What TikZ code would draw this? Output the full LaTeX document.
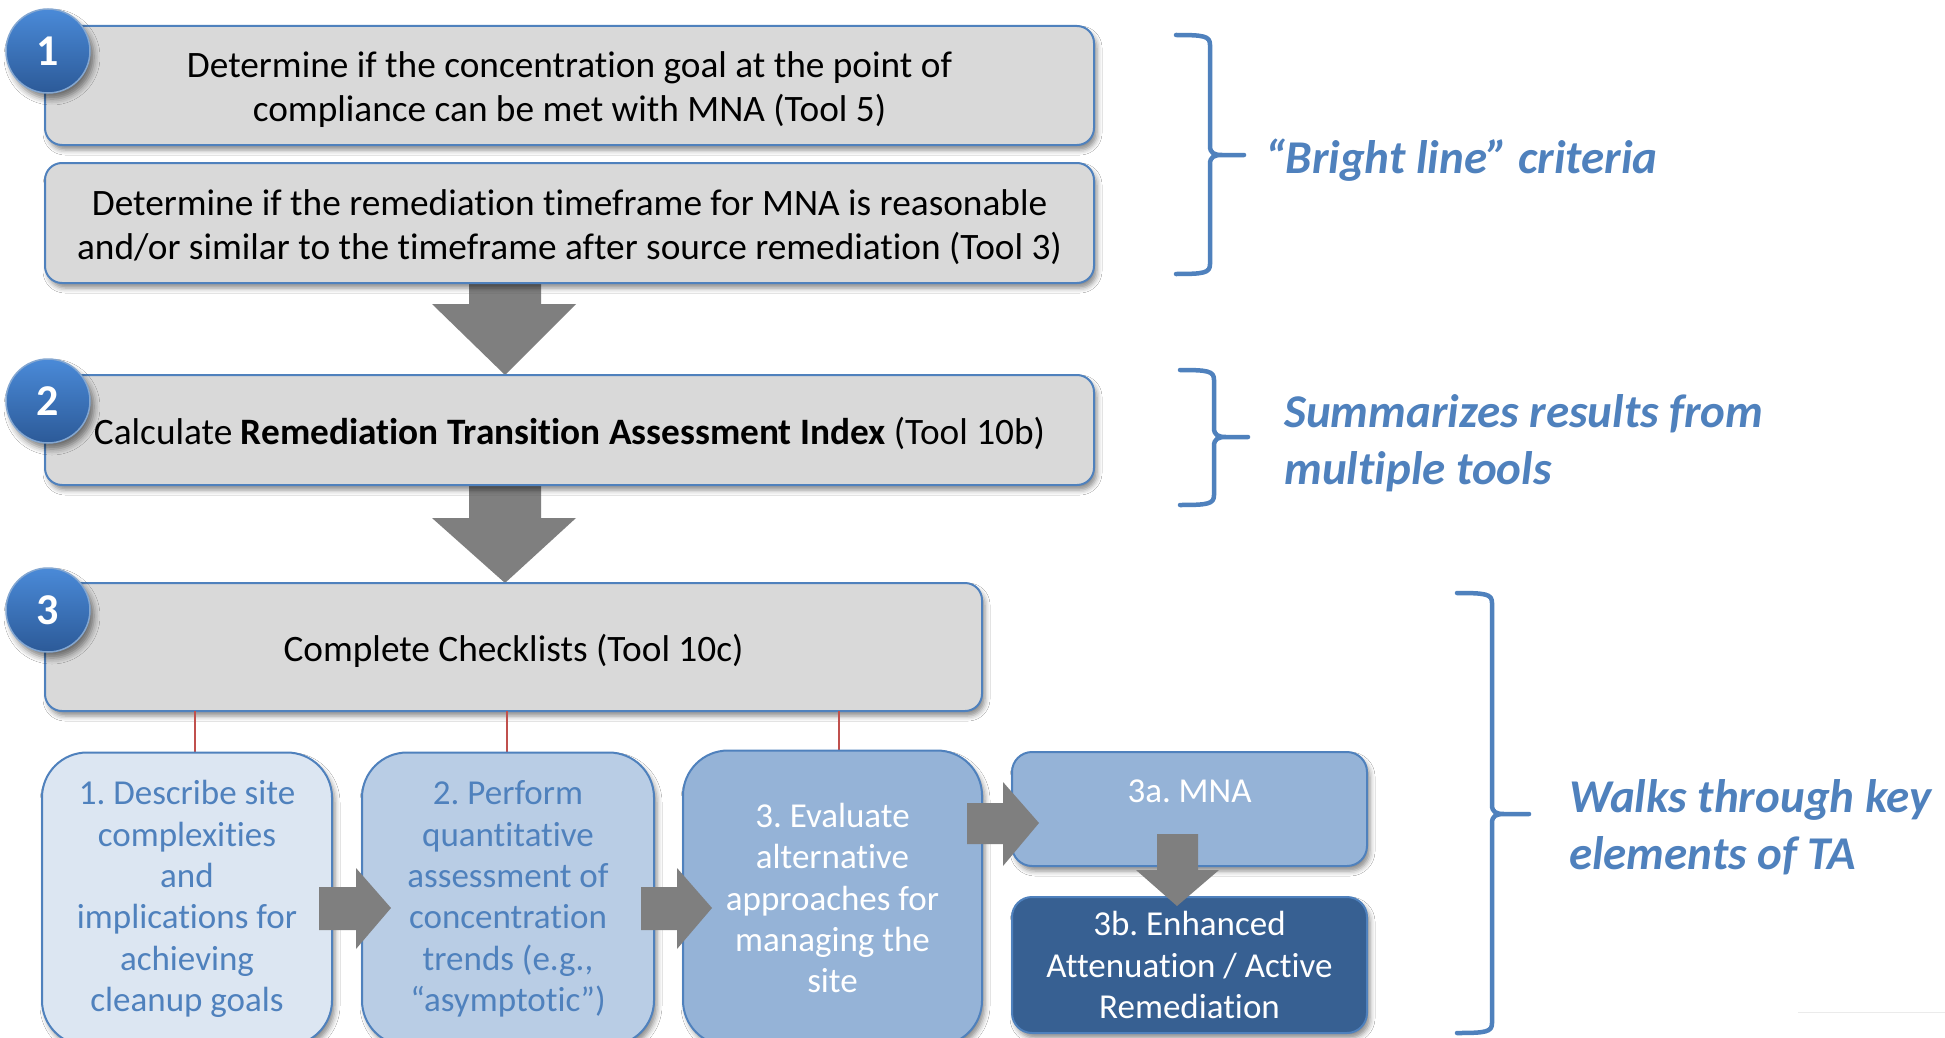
\documentclass[tikz,border=0pt]{standalone}
\usepackage{fontspec}
\setmainfont{Carlito}[Ligatures={TeX,NoCommon}]
\usetikzlibrary{shadows.blur}
\frenchspacing

\definecolor{accentblue}{HTML}{4F81BD}
\definecolor{panelgray}{HTML}{D9D9D9}
\definecolor{arrowgray}{HTML}{7F7F7F}
\definecolor{stepA}{HTML}{DCE6F2}
\definecolor{stepB}{HTML}{B9CDE5}
\definecolor{stepC}{HTML}{95B3D7}
\definecolor{stepD}{HTML}{376092}
\definecolor{tieRed}{HTML}{C0504D}
\definecolor{ballTop}{HTML}{4A8AD8}
\definecolor{ballBot}{HTML}{2C5A98}

\newcommand{\bodysize}{\fontsize{37.3}{43.5}\selectfont}
\newcommand{\substepsize}{\fontsize{35}{41.3}\selectfont}
\newcommand{\notesize}{\fontsize{47}{57}\selectfont\bfseries\itshape}
% tall strut on a first line, to set the text a little lower in its box
\newcommand{\toppad}{\rule{0pt}{34pt}}

% curly bracket: arm x, spine x, tip x, top y, tip y, bottom y
\newcommand{\sidebrace}[6]{%
  \draw[bracepen] (#1,#4) .. controls (#2-6,#4) and (#2,#4+1) .. (#2,#4+10)
    -- (#2,#5-9) .. controls (#2,#5-2) and (#2+4,#5) .. (#2+12,#5) -- (#3,#5)
    -- (#2+12,#5) .. controls (#2+4,#5) and (#2,#5+2) .. (#2,#5+9)
    -- (#2,#6-10) .. controls (#2,#6-1) and (#2-6,#6) .. (#1,#6);}

\tikzset{
  softshadow/.style={blur shadow={shadow xshift=3pt, shadow yshift=-5pt,
      shadow blur radius=5pt, shadow opacity=45}},
  graybox/.style={draw=accentblue, line width=2pt, fill=panelgray,
      rounded corners=17pt, softshadow, align=center, inner sep=0pt,
      font=\bodysize, text=black},
  substep/.style={draw=accentblue, line width=2pt, rounded corners=45pt,
      softshadow, align=center, inner sep=0pt, font=\substepsize},
  optionbox/.style={draw=accentblue, line width=2pt, rounded corners=20pt,
      softshadow, align=center, inner sep=0pt, font=\substepsize, text=white,
      minimum width=355pt},
  stepball/.style={circle, minimum size=84pt, inner sep=0pt,
      top color=ballTop, bottom color=ballBot,
      draw=accentblue!70!white, line width=1.5pt,
      blur shadow={shadow xshift=4pt, shadow yshift=-6pt,
        shadow blur radius=6pt, shadow opacity=50},
      text=white, font=\fontsize{44}{44}\selectfont\bfseries},
  blockarrow/.style={fill=arrowgray, draw=none},
  tieline/.style={draw=tieRed, line width=2pt},
  bracepen/.style={draw=accentblue, line width=4.5pt, line cap=round,
      line join=round},
  note/.style={text=accentblue, font=\notesize, align=left, anchor=west,
      inner sep=0pt},
}

\begin{document}
\begin{tikzpicture}[x=1pt, y=-1pt]
\clip (0,0) rectangle (1945,1038);
\fill[white] (0,0) rectangle (1945,1038);

% block arrows between the main steps (behind the boxes)
\fill[blockarrow] (469,280) -- (541,280) -- (541,304) -- (576,304)
  -- (505,375) -- (432,304) -- (469,304) -- cycle;
\fill[blockarrow] (469,482) -- (541,482) -- (541,518) -- (576,518)
  -- (505,583) -- (432,518) -- (469,518) -- cycle;

% main steps
\node[graybox, minimum width=1049pt, minimum height=119pt] (b1a) at (569.5,85.5)
  {\toppad Determine if the concentration goal at the point of\\compliance can be met with MNA (Tool 5)};
\node[graybox, minimum width=1049pt, minimum height=120pt] (b1b) at (569.5,223)
  {\toppad Determine if the remediation timeframe for MNA is reasonable\\and/or similar to the timeframe after source remediation (Tool 3)};
\node[graybox, minimum width=1049pt, minimum height=110pt] (b2) at (569.5,430)
  {\toppad Calculate \textbf{Remediation Transition Assessment Index} (Tool 10b)};
\node[graybox, minimum width=937pt, minimum height=128pt] (b3) at (513.5,647)
  {\toppad Complete Checklists (Tool 10c)};

% step numbers
\node[stepball] (n1) at (48,51) {1};
\node[stepball] (n2) at (48,401) {2};
\node[stepball] (n3) at (48,610) {3};

% ties from the checklist box to its parts
\draw[tieline] (195,711) -- (195,752);
\draw[tieline] (507,711) -- (507,752);
\draw[tieline] (839,711) -- (839,751);

% checklist parts
\node[substep, fill=stepA, text=accentblue, minimum width=290pt, minimum height=293pt]
  (s1) at (187,899)
  {1. Describe site\\complexities\\and\\implications for\\achieving\\cleanup goals};
\node[substep, fill=stepB, text=accentblue, minimum width=292pt, minimum height=293pt]
  (s2) at (508,899)
  {2. Perform\\quantitative\\assessment of\\concentration\\trends (e.g.,\\“asymptotic”)};
\node[substep, fill=stepC, text=white, minimum width=299pt, minimum height=295pt]
  (s3) at (832.5,898)
  {3. Evaluate\\alternative\\approaches for\\managing the\\site};

% outcomes
\node[optionbox, fill=stepC, minimum height=114pt, text height=25pt, text depth=38pt]
  (o1) at (1189.5,809) {3a. MNA};
\node[optionbox, fill=stepD, minimum height=136pt] (o2) at (1189.5,965)
  {3b. Enhanced\\Attenuation / Active\\Remediation};

% block arrows between the parts (in front of the boxes)
\fill[blockarrow] (319,887) -- (356,887) -- (356,868) -- (391,908)
  -- (356,949) -- (356,930) -- (319,930) -- cycle;
\fill[blockarrow] (641,887) -- (677,887) -- (677,868) -- (712,908)
  -- (677,949) -- (677,930) -- (641,930) -- cycle;
\fill[blockarrow] (967,803) -- (1003,803) -- (1003,782) -- (1039,823)
  -- (1003,866) -- (1003,844) -- (967,844) -- cycle;
\fill[blockarrow] (1157,834) -- (1198,834) -- (1198,870) -- (1219,870)
  -- (1177,906) -- (1136,870) -- (1157,870) -- cycle;

% brackets and notes
\sidebrace{1176}{1210}{1244}{35}{155}{274}
\sidebrace{1180}{1214}{1248}{370}{437}{505}
\sidebrace{1457}{1492}{1529}{593}{814}{1033}

\node[note] (t1) at (1265,160) {“Bright line” criteria};
\node[note] (t2) at (1284,443) {Summarizes results from\\multiple tools};
\node[note] (t3) at (1569,827) {Walks through key\\elements of TA};

% faint rule near the lower right corner
\draw[black!8, line width=1pt] (1798,1012) -- (1945,1012);
\end{tikzpicture}
\end{document}
